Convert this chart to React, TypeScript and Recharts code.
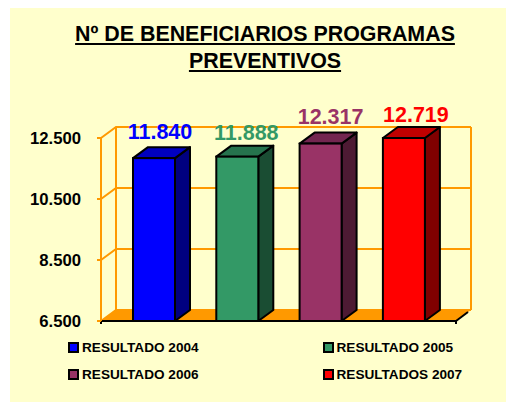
import React from "react";
import { BarChart, Bar, XAxis, YAxis, CartesianGrid, Legend } from "recharts";

const categories = ["Beneficiarios"];
const seriesNames = ["RESULTADO 2004", "RESULTADO 2005", "RESULTADO 2006", "RESULTADOS 2007"];
const seriesKeys = ["r2004", "r2005", "r2006", "r2007"];
const seriesValues = [11840, 11888, 12317, 12719];
const faceColors = ["#0000FF", "#339966", "#993366", "#FF0000"];
const sideColors = ["#000080", "#1A4D33", "#4D1A33", "#800000"];
const topColors = ["#0000C0", "#26734D", "#732650", "#C00000"];
const yTicks = [6500, 8500, 10500, 12500];
const titleLines = ["Nº DE BENEFICIARIOS PROGRAMAS", "PREVENTIVOS"];
const labelDx = [-1.5, 1.5, 2.5, 4.5];
const labelDy = [-1, 1, -2, 2];

const row: Record<string, string | number> = { name: categories[0] };
seriesKeys.forEach((k, i) => (row[k] = seriesValues[i]));
const data = [row];
const axisMax = yTicks[yTicks.length - 1];

const DX = 15;
const DY = 11;
const ORANGE = "#FF9900";
const FONT = "'Liberation Sans', Arial, sans-serif";
const fmt = (v: number) => String(v).replace(/\B(?=(\d{3})+$)/, ".");

const gridLine = (p: any) => {
  const { x1, x2, y1, index, x, y, width, height } = p;
  const bottom = y + height;
  const right = x + width;
  return (
    <g key={`g${index}`}>
      {index === 0 && (
        <g>
          <polygon
            points={`${x},${bottom} ${x + DX},${bottom - DY} ${right + DX},${bottom - DY} ${right},${bottom}`}
            fill={ORANGE}
          />
          <line x1={x + DX} x2={x + DX} y1={y - DY} y2={bottom - DY} stroke={ORANGE} strokeWidth={2} />
          <line x1={right + DX} x2={right + DX} y1={y - DY} y2={bottom - DY} stroke={ORANGE} strokeWidth={2} />
          <line x1={right} x2={right + DX - 3} y1={bottom} y2={bottom - DY + 2} stroke="#000" strokeWidth={2} />
          <line x1={right} x2={right} y1={bottom} y2={bottom + 3} stroke="#000" strokeWidth={2} />
          <line x1={x} x2={x} y1={bottom} y2={bottom + 3} stroke="#000" strokeWidth={2} />
        </g>
      )}
      <polyline
        points={`${x1},${y1} ${x1 + DX},${y1 - DY} ${x2 + DX},${y1 - DY}`}
        fill="none"
        stroke={ORANGE}
        strokeWidth={2}
      />
    </g>
  );
};

const makeShape = (i: number) => (p: any) => {
  const { x, y: top, width, height } = p;
  const bottom = top + height;
  const right = x + width;
  return (
    <g>
      <polygon
        points={`${right},${top} ${right + DX},${top - DY} ${right + DX},${bottom - DY} ${right},${bottom}`}
        fill={sideColors[i]}
        stroke="#000"
        strokeWidth={2}
        strokeLinejoin="round"
      />
      <polygon
        points={`${x},${top} ${x + DX},${top - DY} ${right + DX},${top - DY} ${right},${top}`}
        fill={topColors[i]}
        stroke="#000"
        strokeWidth={2}
        strokeLinejoin="round"
      />
      <rect x={x} y={top} width={width} height={height} fill={faceColors[i]} stroke="#000" strokeWidth={2} />
      <text
        x={x + width / 2 + DX / 2 + labelDx[i]}
        y={top - DY - 7 + labelDy[i]}
        textAnchor="middle"
        fontFamily={FONT}
        fontWeight="bold"
        fontSize={21.5}
        fill={faceColors[i]}
      >
        {fmt(seriesValues[i])}
      </text>
    </g>
  );
};

const LegendContent = () => (
  <div style={{ position: "relative", width: 496, height: 60, fontFamily: FONT, fontWeight: "bold", fontSize: 13.6, color: "#000" }}>
    {seriesNames.map((n, i) => (
      <div
        key={n}
        style={{
          position: "absolute",
          left: i % 2 === 0 ? 58 : 312.5,
          top: i < 2 ? 0 : 27,
          display: "flex",
          alignItems: "center",
          height: 12,
          whiteSpace: "nowrap",
        }}
      >
        <span
          style={{
            display: "inline-block",
            boxSizing: "border-box",
            width: 11,
            height: 11,
            border: "2.5px solid #000",
            background: faceColors[i],
            marginRight: 3,
          }}
        />
        {n}
      </div>
    ))}
  </div>
);

export default function App() {
  return (
    <div style={{ position: "absolute", left: 10, top: 8, width: 496, height: 394, background: "#FFFFCC", overflow: "hidden" }}>
      {titleLines.map((t, i) => (
        <div
          key={t}
          style={{
            position: "absolute",
            left: 7,
            width: 496,
            top: 13 + i * 27,
            textAlign: "center",
            fontFamily: FONT,
            fontWeight: "bold",
            fontSize: 21.4,
            lineHeight: "27px",
            textDecoration: "underline",
            color: "#000",
            whiteSpace: "pre",
          }}
        >
          {t}
        </div>
      ))}
      <div style={{ position: "absolute", left: 0, top: 0 }}>
        <BarChart
          width={496}
          height={394}
          data={data}
          margin={{ top: 130, right: 50, bottom: 20, left: 0 }}
          barSize={42}
          barGap={41.3}
        >
          <CartesianGrid vertical={false} horizontal={gridLine as any} stroke={ORANGE} />
          <XAxis dataKey="name" tick={false} height={1} axisLine={{ stroke: "#000", strokeWidth: 2 }} tickLine={false} />
          <YAxis
            width={91}
            domain={[yTicks[0], axisMax]}
            ticks={yTicks}
            tickFormatter={fmt}
            axisLine={{ stroke: ORANGE, strokeWidth: 2 }}
            tickLine={{ stroke: ORANGE, strokeWidth: 2 }}
            tickSize={4}
            tickMargin={16}
            tick={{ fill: "#000", fontFamily: FONT, fontWeight: "bold", fontSize: 16.7 }}
          />
          <Legend content={<LegendContent />} wrapperStyle={{ top: 333, left: 0, width: 496, height: 60 }} />
          {seriesKeys.map((k, i) => (
            <Bar
              key={k}
              dataKey={(d: any) => Math.min(d[k], axisMax)}
              name={seriesNames[i]}
              fill={faceColors[i]}
              shape={makeShape(i)}
              isAnimationActive={false}
            />
          ))}
        </BarChart>
      </div>
    </div>
  );
}
